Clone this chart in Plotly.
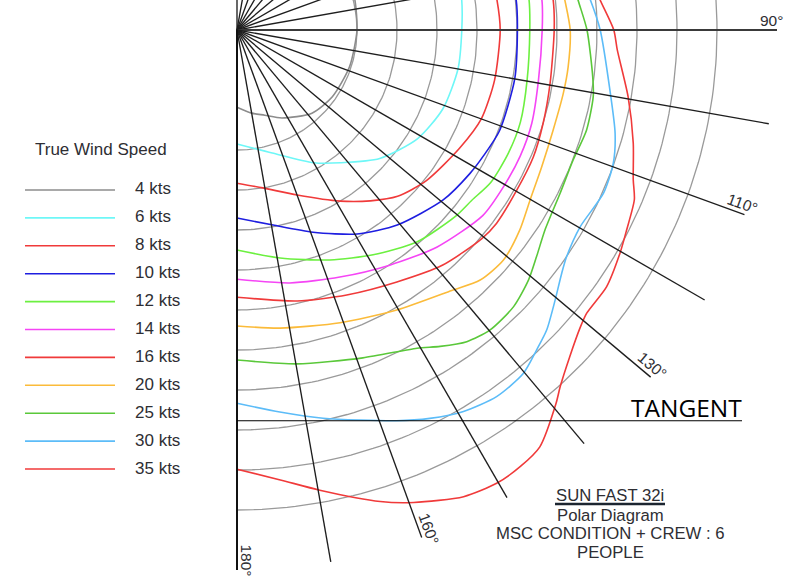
import numpy as np
import plotly.graph_objects as go

# ---------------- data (true wind angle in degrees, boat speed in knots) -------------
TWS_LABELS = ["4 kts", "6 kts", "8 kts", "10 kts", "12 kts", "14 kts",
              "16 kts", "20 kts", "25 kts", "30 kts", "35 kts"]
COLORS = ["#8c8c8c", "#6ef7f7", "#f03a3a", "#1e1ee0", "#6cf040", "#f545f5",
          "#f03a3a", "#fbbb3a", "#5ac83a", "#5cbcf8", "#f03a3a"]

twa_4 = [70, 76, 90, 108, 125, 138, 153, 162, 170, 180]
bsp_4 = [3.05, 3.04, 3.0, 2.96, 2.91, 2.80, 2.47, 2.24, 2.11, 1.93]

twa_6 = [75, 82, 90, 100, 111, 121, 132, 142, 150, 164, 180]
bsp_6 = [5.68, 5.67, 5.62, 5.61, 5.51, 5.27, 4.80, 4.21, 3.83, 3.20, 2.85]

twa_8 = [75, 83, 90, 101, 110, 118, 128.5, 136, 142, 149, 160, 170.7, 180]
bsp_8 = [6.50, 6.54, 6.58, 6.56, 6.50, 6.30, 6.05, 5.78, 5.42, 4.99, 4.39, 4.00, 3.83]

twa_10 = [75, 84, 90, 100, 111, 117, 121.6, 129.5, 140.6, 149.5, 159.4, 169.5, 180]
bsp_10 = [6.98, 7.02, 7.01, 7.05, 7.03, 6.92, 6.84, 6.68, 6.31, 5.92, 5.40, 4.96, 4.70]

twa_12 = [75, 84, 90, 99.8, 108, 114.4, 121, 126, 130.4, 139.7, 148.8, 158, 169.3, 180]
bsp_12 = [7.32, 7.34, 7.32, 7.36, 7.45, 7.45, 7.40, 7.25, 7.18, 6.95, 6.57, 6.20, 5.80, 5.50]

twa_14 = [75, 84.4, 90, 99.4, 107.6, 114, 120.5, 127, 137.3, 147, 157.4, 168.2, 180]
bsp_14 = [7.62, 7.66, 7.63, 7.64, 7.73, 7.75, 7.73, 7.70, 7.38, 7.01, 6.69, 6.46, 6.23]

twa_16 = [75, 84.6, 90, 99.7, 106.9, 113.2, 119.8, 126.7, 130.5, 138.8, 147.6, 157.5, 167.5, 180]
bsp_16 = [7.90, 7.94, 7.93, 7.94, 8.00, 8.06, 8.06, 8.09, 8.04, 7.81, 7.46, 7.17, 6.94, 6.68]

twa_20 = [75, 84.8, 90, 96.4, 101, 107.5, 114.2, 120.1, 125.3, 130.8, 135.8, 140.5, 150.3, 160.6, 171.8, 180]
bsp_20 = [8.15, 8.23, 8.33, 8.33, 8.31, 8.29, 8.35, 8.47, 8.66, 8.80, 8.72, 8.44, 8.06, 7.76, 7.53, 7.40]

twa_25 = [75, 85, 90, 97.5, 100.6, 106, 111.1, 116.8, 123, 127.1, 130.6, 135, 139.9, 143.6,
          147.3, 150.5, 159, 169.8, 180]
bsp_25 = [8.40, 8.56, 8.75, 8.97, 9.06, 9.09, 9.01, 9.05, 9.18, 9.39, 9.60, 9.78, 9.81, 9.68,
          9.40, 9.14, 8.78, 8.48, 8.25]

twa_30 = [75, 85, 90, 99.1, 105.3, 109.5, 114, 119.8, 124.5, 126.8, 130.3, 134.1, 136.9, 140.2,
          144.7, 149.3, 153.6, 157.8, 167.5, 173.6, 180]
bsp_30 = [8.50, 8.86, 9.08, 9.44, 9.80, 9.98, 10.03, 9.89, 10.00, 10.14, 10.43, 10.78, 10.96, 11.18,
          11.23, 11.09, 10.84, 10.55, 9.94, 9.61, 9.33]

twa_35 = [75, 85.3, 90, 93, 99.7, 105.9, 110.7, 113.1, 117.2, 120.2, 124.8, 129, 131, 134.5,
          137.8, 139.5, 144, 147, 150.2, 154.1, 159.5, 163.1, 169.8, 174.5, 180]
bsp_35 = [8.70, 9.11, 9.42, 9.52, 9.92, 10.30, 10.59, 10.80, 10.95, 11.08, 11.25, 11.25, 11.36, 11.66,
          12.03, 12.28, 12.88, 13.01, 13.06, 12.97, 12.61, 12.32, 11.69, 11.30, 10.98]

SERIES_TWA = [twa_4, twa_6, twa_8, twa_10, twa_12, twa_14, twa_16, twa_20, twa_25, twa_30, twa_35]
SERIES_BSP = [bsp_4, bsp_6, bsp_8, bsp_10, bsp_12, bsp_14, bsp_16, bsp_20, bsp_25, bsp_30, bsp_35]

RING_SPEEDS = list(range(3, 13))          # boat-speed circles (kts)
RAY_ANGLES = list(range(0, 181, 10))      # true-wind-angle rays (deg)
RAY_LENGTH = 13.5
LABELED_ANGLES = [90, 110, 130, 160, 180]
TANGENT_SERIES = "30 kts"

TITLE_LINES = ["Polar Diagram", "MSC CONDITION + CREW : 6", "PEOPLE"]
BOAT_NAME = "SUN FAST 32i"

# ---------------- helpers ----------------
W, H = 801, 582
FONT = "Arial, Liberation Sans, sans-serif"
TXT = "#2e2e33"


def to_xy(twa, bsp):
    t = np.radians(np.asarray(twa, dtype=float))
    b = np.asarray(bsp, dtype=float)
    return b * np.sin(t), b * np.cos(t)


def px(x):
    return x / W


def py(y):
    return 1 - y / H


fig = go.Figure()

# speed rings
ring_ang = np.arange(0, 180.5, 1.0)
for r in RING_SPEEDS:
    x, y = to_xy(ring_ang, np.full_like(ring_ang, r))
    fig.add_trace(go.Scatter(x=x, y=y, mode="lines", hoverinfo="skip",
                             line=dict(color="#9a9a9a", width=1.3), showlegend=False))

# polar curves
for lab, col, twa, bsp in zip(TWS_LABELS, COLORS, SERIES_TWA, SERIES_BSP):
    x, y = to_xy(twa, bsp)
    fig.add_trace(go.Scatter(x=x, y=y, mode="lines", name=lab,
                             line=dict(color=col, width=1.6, shape="spline", smoothing=0.7),
                             showlegend=False))

# angle rays
for a in RAY_ANGLES:
    x, y = to_xy([a, a], [0, RAY_LENGTH])
    if a == 90:
        ln = dict(color="#3a3a3a", width=2.2)
    elif a == 180:
        ln = dict(color="#111111", width=2.0)
    else:
        ln = dict(color="#1e1e1e", width=1.35)
    fig.add_trace(go.Scatter(x=x, y=y, mode="lines", line=ln, hoverinfo="skip",
                             showlegend=False))

# tangent line to the 30 kts curve
i30 = TWS_LABELS.index(TANGENT_SERIES)
_, y30 = to_xy(SERIES_TWA[i30], SERIES_BSP[i30])
y_tan = float(np.min(y30))
x_end = 12.625
fig.add_trace(go.Scatter(x=[0, x_end], y=[y_tan, y_tan], mode="lines",
                         line=dict(color="#000000", width=1.1), showlegend=False,
                         hoverinfo="skip"))

annotations = []
shapes = []

# angle labels
for a in LABELED_ANGLES:
    t = np.radians(a)
    r = 13.35 if a != 180 else 13.25
    off = 0.24
    xl = r * np.sin(t) - off * np.cos(t)
    yl = r * np.cos(t) + off * np.sin(t)
    annotations.append(dict(x=xl, y=yl, xref="x", yref="y", text=f"{a}°",
                            showarrow=False, textangle=a - 90,
                            font=dict(family=FONT, size=15.5, color=TXT),
                            xanchor="center", yanchor="middle"))

annotations.append(dict(x=x_end, y=y_tan, xref="x", yref="y", text="TANGENT",
                        showarrow=False, xanchor="right", yanchor="bottom",
                        yshift=-5, xshift=2,
                        font=dict(family="Open Sans, Liberation Sans, sans-serif", size=24.5,
                                  color="#000000")))

# legend (drawn manually)
annotations.append(dict(x=px(101), y=py(150), xref="paper", yref="paper",
                        text="True Wind Speed", showarrow=False, xanchor="center",
                        yanchor="middle", font=dict(family=FONT, size=17, color=TXT)))
leg_y0, leg_dy = 190, 27.9
for i, (lab, col) in enumerate(zip(TWS_LABELS, COLORS)):
    yy = leg_y0 + i * leg_dy
    shapes.append(dict(type="line", xref="paper", yref="paper",
                       x0=px(25), x1=px(115), y0=py(yy), y1=py(yy),
                       line=dict(color=col, width=1.6)))
    annotations.append(dict(x=px(133), y=py(yy - 1), xref="paper", yref="paper",
                            text=lab, showarrow=False, xanchor="left", yanchor="middle",
                            font=dict(family=FONT, size=17, color=TXT)))

# title block
annotations.append(dict(x=px(610), y=py(495), xref="paper", yref="paper", text=BOAT_NAME,
                        showarrow=False, xanchor="center", yanchor="middle",
                        font=dict(family=FONT, size=16.7, color=TXT)))
shapes.append(dict(type="line", xref="paper", yref="paper", x0=px(555), x1=px(665),
                   y0=py(504), y1=py(504), line=dict(color="#1c2530", width=2.6)))
for txt, yy in zip(TITLE_LINES, [515, 533, 552]):
    annotations.append(dict(x=px(610), y=py(yy), xref="paper", yref="paper", text=txt,
                            showarrow=False, xanchor="center", yanchor="middle",
                            font=dict(family=FONT, size=16.7, color=TXT)))

cx, cy, scale = 237.0, 30.0, 40.0
fig.update_layout(
    width=W, height=H,
    margin=dict(l=0, r=0, t=0, b=0),
    paper_bgcolor="white", plot_bgcolor="white",
    xaxis=dict(range=[-cx / scale, (W - cx) / scale], visible=False, fixedrange=True),
    yaxis=dict(range=[-(H - cy) / scale, cy / scale], visible=False, fixedrange=True),
    annotations=annotations, shapes=shapes, showlegend=False,
)

fig.write_html("out.html")
